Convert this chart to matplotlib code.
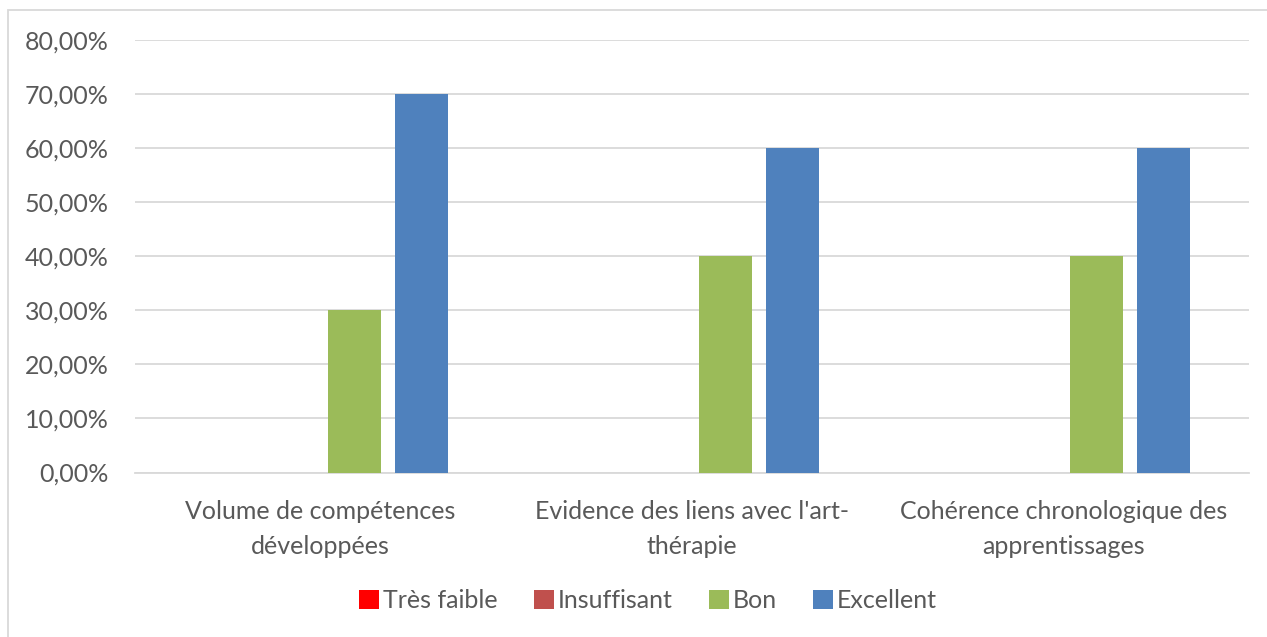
import numpy as np
import matplotlib.pyplot as plt
from matplotlib.patches import Rectangle
from matplotlib.ticker import FuncFormatter

categories = ["Volume de compétences\ndéveloppées",
              "Evidence des liens avec l'art-\nthérapie",
              "Cohérence chronologique des\napprentissages"]
series = ["Très faible", "Insuffisant", "Bon", "Excellent"]
values = {
    "Très faible": [0.0, 0.0, 0.0],
    "Insuffisant": [0.0, 0.0, 0.0],
    "Bon": [0.30, 0.40, 0.40],
    "Excellent": [0.70, 0.60, 0.60],
}
colors = ["#FF0000", "#C0504D", "#9BBB59", "#4F81BD"]

plt.rcParams['font.family'] = ['Lato', 'DejaVu Sans']
text_col = "#595959"

fig = plt.figure(figsize=(12.67, 6.37), dpi=100)
ax = fig.add_axes([135 / 1267, 1 - 472.5 / 637, (1249 - 135) / 1267, (472.5 - 40) / 637])

x = np.arange(len(categories))
w = 0.143
step = 0.1806
for i, s in enumerate(series):
    ax.bar(x + (i - 1.5) * step, values[s], width=w, color=colors[i], label=s, zorder=3)

ax.set_xlim(-0.5, len(categories) - 0.5)
ax.set_ylim(0, 0.8)
ax.set_yticks(np.arange(0, 0.81, 0.1))
ax.yaxis.set_major_formatter(FuncFormatter(lambda v, p: f"{v * 100:.2f}%".replace(".", ",")))
ax.grid(axis='y', color="#D9D9D9", linewidth=1.3, zorder=0)
for sp in ["top", "right", "left"]:
    ax.spines[sp].set_visible(False)
ax.spines["bottom"].set_color("#D9D9D9")
ax.spines["bottom"].set_linewidth(1.3)
ax.tick_params(axis='both', length=0, colors=text_col, labelsize=18)
ax.tick_params(axis='y', pad=19)
ax.tick_params(axis='x', pad=20)
ax.set_xticks(x)
ax.set_xticklabels(categories, linespacing=1.6)

leg = fig.legend(loc='center', bbox_to_anchor=(648 / 1267, 1 - 601 / 637), ncol=4, frameon=False,
                 fontsize=18, handlelength=0.8, handleheight=0.8, handletextpad=0.15,
                 columnspacing=1.45, labelcolor=text_col)

fig.patches.append(Rectangle((7.5 / 1267, -0.05), 1.1, 1 - 9.5 / 637 + 0.05,
                             transform=fig.transFigure, fill=False,
                             edgecolor="#D9D9D9", linewidth=1.3))

fig.savefig("out.png", dpi=100)
